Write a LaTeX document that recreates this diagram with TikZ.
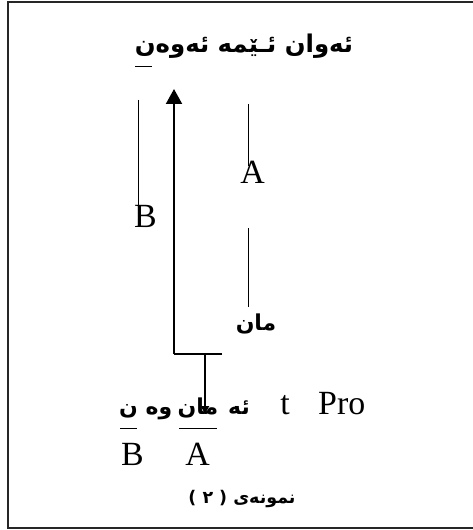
\documentclass[tikz,border=0pt]{standalone}
\usepackage{fontspec}
\setmainfont{Liberation Serif}
\newfontfamily\arb[Script=Arabic]{DejaVu Sans}
\TeXXeTstate=1
\usetikzlibrary{arrows.meta}
\tikzset{
  latin/.style={font=\fontsize{34}{34}\selectfont, inner sep=0pt, anchor=base},
  arab/.style={font=\arb\bfseries\fontsize{22}{22}\selectfont, inner sep=0pt, anchor=base},
  thin/.style={line width=1bp},
  thick/.style={line width=2bp},
  frame/.style={line width=2.2bp, draw=black!85}
}
\begin{document}
\begin{tikzpicture}[x=1bp,y=-1bp]
\useasboundingbox (0,0) rectangle (473,530);
% frame (top, left, bottom)
\coordinate (f1) at (473,2);
\coordinate (f2) at (8,2);
\coordinate (f3) at (8,528);
\coordinate (f4) at (473,528);
\draw[frame] (f1) -- (f2) -- (f3) -- (f4);

% title
\node[arab,font=\arb\bfseries\fontsize{24.5}{24.5}\selectfont] (title) at (244,53) {\beginR ئەوان ئـێمە ئەوەن\endR};
\coordinate (t1) at (135,67);
\coordinate (t2) at (152,67);
\draw[thin] (t1) -- (t2);

% upper labels
\node[latin] (Bup) at (145.5,227) {B};
\node[latin] (Aup) at (252.5,184) {A};
\node[arab] (man) at (256,330) {\beginR مان\endR};

\coordinate (b1) at (138,100);
\coordinate (b2) at (138,207);
\draw[thin] (b1) -- (b2);
\coordinate (a1) at (248,104);
\coordinate (a2) at (248,166);
\draw[thin] (a1) -- (a2);
\coordinate (a3) at (248,228);
\coordinate (a4) at (248,307);
\draw[thin] (a3) -- (a4);

% arrows
\coordinate (c0) at (174,354);
\coordinate (c1) at (222,354);
\coordinate (top) at (174,89);
\coordinate (d0) at (205,354);
\coordinate (d1) at (205,414);
\draw[thick] (c1) -- (c0);
\draw[thick,-{Triangle[length=15bp,width=16bp]}] (c0) -- (top);
\draw[thick,-{Triangle[length=8bp,width=8bp]}] (d0) -- (d1);

% bottom row
\node[arab] (w1) at (239,414) {\beginR ئه\endR};
\node[arab] (w2) at (198,414) {\beginR مان\endR};
\node[arab] (w3) at (159,414) {\beginR وه\endR};
\node[arab] (w4) at (128.5,414) {\beginR ن\endR};
\node[latin] (tt) at (285,414) {t};
\node[latin,anchor=base west] (pro) at (318,414) {Pro};
\coordinate (u1) at (120,428);
\coordinate (u2) at (137,428);
\coordinate (u3) at (179,428);
\coordinate (u4) at (217,428);
\draw[thin] (u1) -- (u2);
\draw[thin] (u3) -- (u4);
\node[latin] (Blo) at (132.5,465) {B};
\node[latin] (Alo) at (197.5,465) {A};

% caption
\node[arab,font=\arb\bfseries\fontsize{17.5}{17.5}\selectfont] (cap) at (242,503) {\beginR نمونەی ( ٢ )\endR};
\end{tikzpicture}
\end{document}
